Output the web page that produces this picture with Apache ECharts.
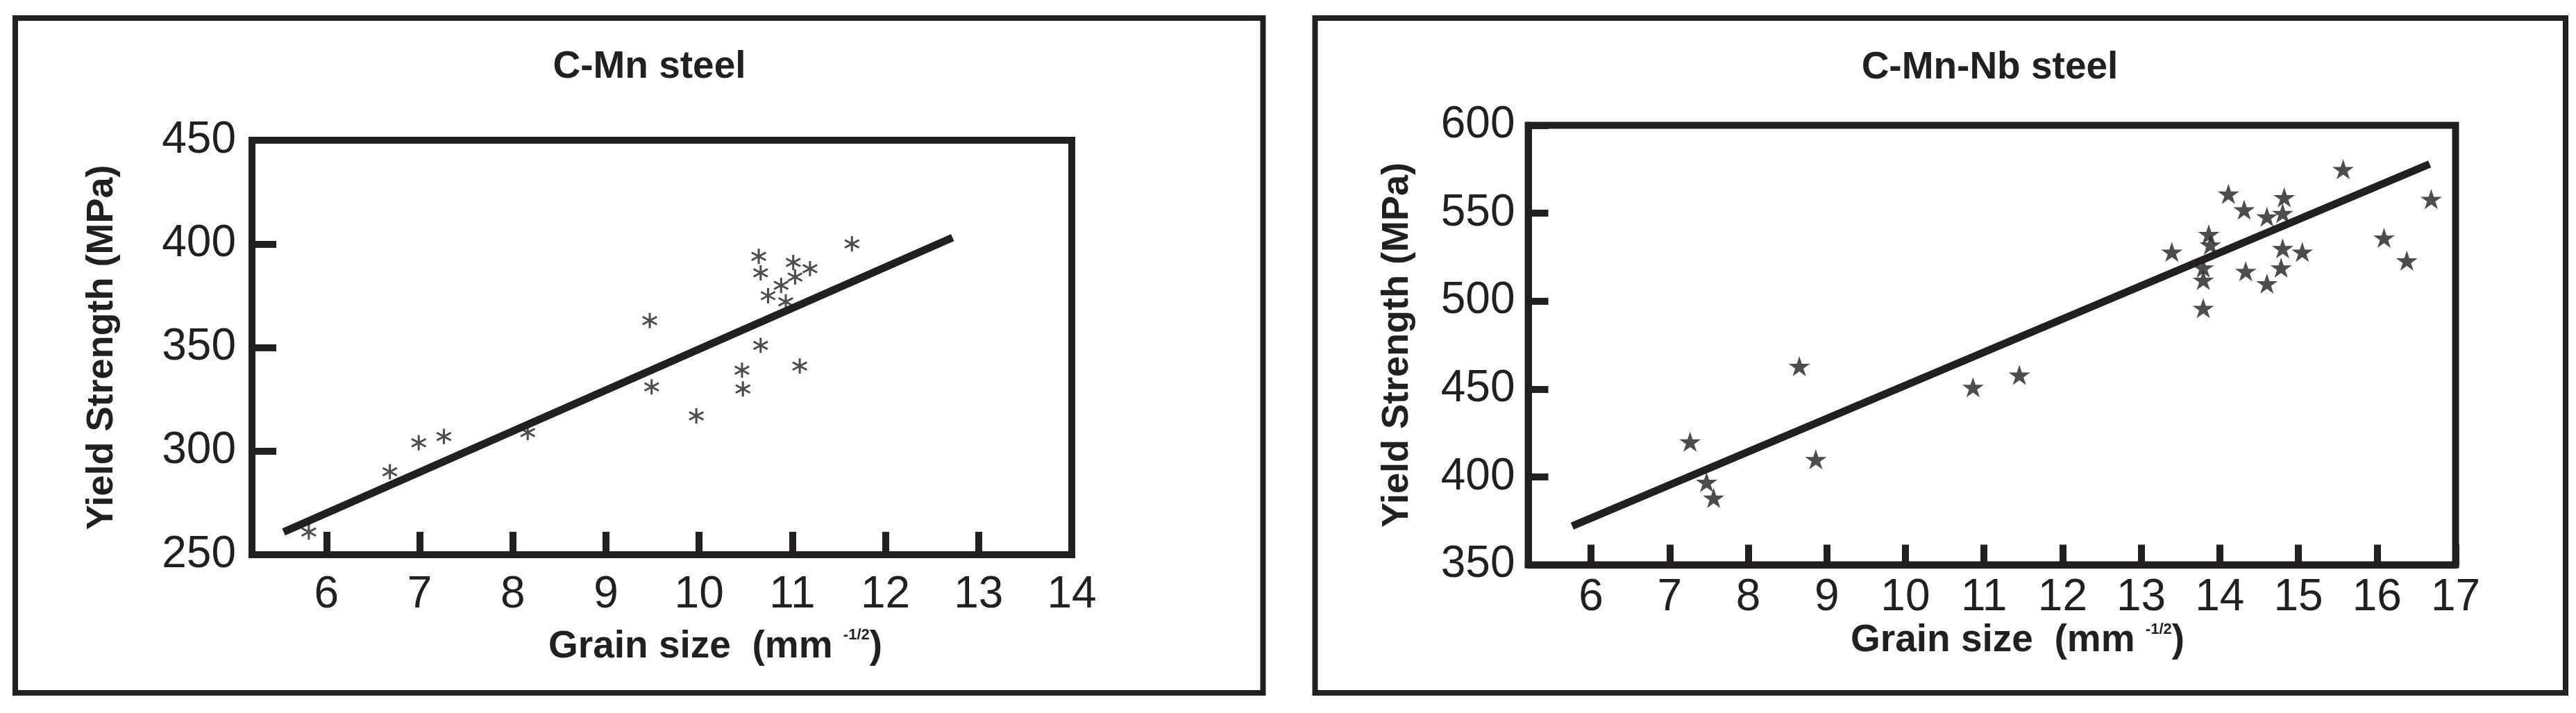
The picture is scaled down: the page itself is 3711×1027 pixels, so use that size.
<!DOCTYPE html>
<html>
<head>
<meta charset="utf-8">
<script src="https://cdn.jsdelivr.net/npm/echarts@6/dist/echarts.min.js"></script>
<style>
html,body{margin:0;padding:0;background:#ffffff;}
#chart{width:3711px;height:1027px;}
</style>
</head>
<body>
<div id="chart"></div>
<script>
// ---------- data ----------
const panelTitles = ['C-Mn steel', 'C-Mn-Nb steel'];
const yAxisTitle = 'Yield Strength (MPa)';
const xAxisTitleMain = 'Grain size  (mm ';
const xAxisTitleSup = '-1/2';

const cmnXTicks = [6, 7, 8, 9, 10, 11, 12, 13, 14];
const nbXTicks = [6, 7, 8, 9, 10, 11, 12, 13, 14, 15, 16, 17];

// C-Mn steel: grain size (mm^-1/2) and yield strength (MPa)
const cmnGrain = [5.81, 6.68, 6.99, 7.26, 8.16, 9.47, 9.49, 9.97, 10.46, 10.47, 10.66,
                  10.64, 10.66, 10.74, 10.88, 10.93, 11.01, 11.03, 11.19, 11.08, 11.64];
const cmnYield = [261, 290, 304, 307, 309, 363, 331, 317, 339, 330, 351,
                  394, 386, 375, 380, 372, 391, 384, 388, 341, 400];
const cmnFitGrain = [5.54, 12.72];
const cmnFitYield = [261, 403];

// C-Mn-Nb steel
const nbGrain = [7.26, 7.47, 7.56, 8.65, 8.86, 10.86, 11.45, 13.39, 13.86, 13.88, 13.79,
                 13.79, 13.79, 14.11, 14.31, 14.33, 14.60, 14.60, 14.82, 14.80, 14.80,
                 14.78, 15.05, 15.57, 16.09, 16.38, 16.69];
const nbYield = [420, 397, 388, 463, 410, 451, 458, 528, 538, 532, 519,
                 512, 496, 561, 552, 517, 548, 510, 559, 550, 530,
                 519, 528, 575, 536, 523, 558];
const nbFitGrain = [5.76, 16.67];
const nbFitYield = [372, 578];

// ---------- styling ----------
const INK = '#231f20';
const FONT = '"Liberation Sans", Arial, Helvetica, sans-serif';

const ASTERISK = 'path://M-1.3,-10L1.3,-10L1.3,10L-1.3,10Z' +
  'M8.01,-6.13L9.31,-3.87L-8.01,6.13L-9.31,3.87Z' +
  'M-9.31,-3.87L-8.01,-6.13L9.31,3.87L8.01,6.13Z';
const STAR = 'path://M50,0L61.23,34.55L97.55,34.55L68.16,55.9L79.39,90.45L50,69.1L20.61,90.45L31.84,55.9L2.45,34.55L38.77,34.55Z';

function zip(a, b) { return a.map((v, i) => [v, b[i]]); }

function xAxisCfg(gridIndex, min, max, ticks, tickLen, labelMargin, nameGap, shift) {
  return {
    gridIndex: gridIndex, type: 'value', min: min, max: max,
    axisLine: { show: true, onZero: false, lineStyle: { color: INK, width: 10 } },
    axisTick: { show: true, inside: true, length: tickLen, customValues: ticks,
                lineStyle: { color: INK, width: 10 } },
    axisLabel: { show: true, customValues: ticks, margin: labelMargin, fontSize: 64,
                 color: INK, fontFamily: FONT },
    splitLine: { show: false },
    name: '{b|' + xAxisTitleMain + '}{s|' + xAxisTitleSup + '}{b|)}',
    nameLocation: 'middle', nameGap: nameGap, nameMoveOverlap: false,
    nameTextStyle: {
      fontSize: 55, fontWeight: 'bold', color: INK, fontFamily: FONT,
      padding: [0, 0, 0, shift * 2],
      rich: {
        b: { fontSize: 55, fontWeight: 'bold', color: INK, fontFamily: FONT },
        s: { fontSize: 22, color: INK, fontFamily: FONT, verticalAlign: 'top' }
      }
    }
  };
}

function yAxisCfg(gridIndex, min, max, tickLen, labelMargin, nameGap) {
  return {
    gridIndex: gridIndex, type: 'value', min: min, max: max, interval: 50,
    axisLine: { show: true, onZero: false, lineStyle: { color: INK, width: 10 } },
    axisTick: { show: true, inside: true, length: tickLen, lineStyle: { color: INK, width: 10 } },
    axisLabel: { show: true, margin: labelMargin, fontSize: 64, color: INK, fontFamily: FONT },
    splitLine: { show: false },
    name: yAxisTitle, nameLocation: 'middle', nameRotate: 90, nameGap: nameGap,
    nameMoveOverlap: false,
    nameTextStyle: { fontSize: 54, fontWeight: 'bold', color: INK, fontFamily: FONT }
  };
}

const chart = echarts.init(document.getElementById('chart'), null, { renderer: 'canvas' });

const option = {
  animation: false,
  backgroundColor: '#ffffff',
  title: [
    { text: panelTitles[0], left: 935.5, top: 69, textAlign: 'center', padding: 0,
      textStyle: { fontSize: 55, fontWeight: 'bold', color: INK, fontFamily: FONT } },
    { text: panelTitles[1], left: 2866.5, top: 70, textAlign: 'center', padding: 0,
      textStyle: { fontSize: 55, fontWeight: 'bold', color: INK, fontFamily: FONT } }
  ],
  graphic: [
    { type: 'rect', silent: true, z: 0,
      shape: { x: 22, y: 26, width: 1797.5, height: 972 },
      style: { fill: 'none', stroke: INK, lineWidth: 8 } },
    { type: 'rect', silent: true, z: 0,
      shape: { x: 1894.5, y: 26, width: 1801.5, height: 972 },
      style: { fill: 'none', stroke: INK, lineWidth: 8 } }
  ],
  grid: [
    { left: 363, top: 202, width: 1181, height: 597, show: true, borderColor: INK,
      borderWidth: 10, backgroundColor: 'transparent', containLabel: false, outerBoundsMode: 'none' },
    { left: 2201.5, top: 180.5, width: 1336, height: 633, show: true, borderColor: INK,
      borderWidth: 10, backgroundColor: 'transparent', containLabel: false, outerBoundsMode: 'none' }
  ],
  xAxis: [
    xAxisCfg(0, 5.2, 14, cmnXTicks, 33, 26, 105, 77),
    xAxisCfg(1, 5.2, 17, nbXTicks, 29, 16, 82, 37)
  ],
  yAxis: [
    yAxisCfg(0, 250, 450, 35, 23, 189),
    yAxisCfg(1, 350, 600, 29, 19, 161)
  ],
  series: [
    { type: 'scatter', xAxisIndex: 0, yAxisIndex: 0, data: zip(cmnGrain, cmnYield),
      symbol: ASTERISK, symbolSize: [22, 22], itemStyle: { color: INK }, silent: true },
    { type: 'line', xAxisIndex: 0, yAxisIndex: 0, data: zip(cmnFitGrain, cmnFitYield),
      symbol: 'none', lineStyle: { color: INK, width: 11, cap: 'butt' }, silent: true },
    { type: 'scatter', xAxisIndex: 1, yAxisIndex: 1, data: zip(nbGrain, nbYield),
      symbol: STAR, symbolSize: [31, 29], itemStyle: { color: INK }, silent: true },
    { type: 'line', xAxisIndex: 1, yAxisIndex: 1, data: zip(nbFitGrain, nbFitYield),
      symbol: 'none', lineStyle: { color: INK, width: 11, cap: 'butt' }, silent: true }
  ]
};

chart.setOption(option);
</script>
</body>
</html>
